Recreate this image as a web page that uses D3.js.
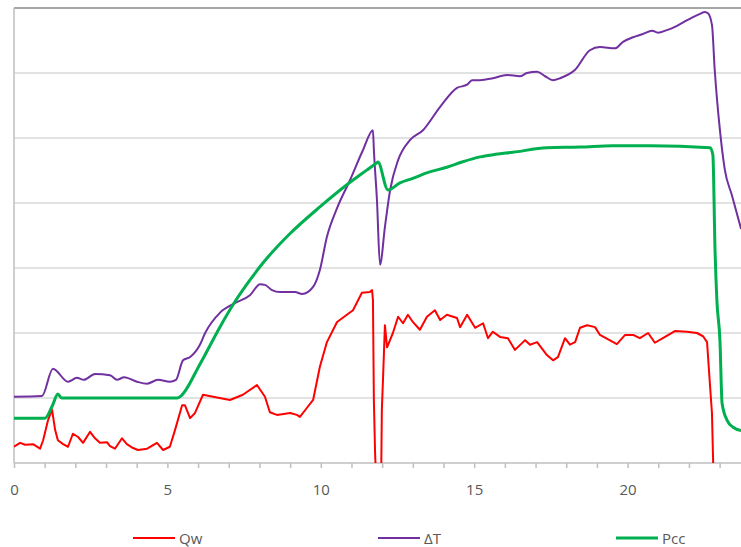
<!DOCTYPE html>
<html>
<head>
<meta charset="utf-8">
<script src="https://cdn.jsdelivr.net/npm/d3@7"></script>
<style>
  body { margin: 0; background: #fff; }
  svg { display: block; }
</style>
</head>
<body>
<script>
// values (time, value)
var qwX = [0,0.2,0.36,0.62,0.85,0.95,1.11,1.24,1.34,1.43,1.6,1.76,1.92,2.09,2.25,2.48,2.64,2.8,3.03,3.13,3.29,3.52,3.68,3.88,4.04,4.34,4.66,4.86,5.08,5.25,5.48,5.57,5.74,5.9,6.16,6.49,7.04,7.46,7.92,8.18,8.34,8.57,9.0,9.22,9.32,9.55,9.75,9.97,10.2,10.53,10.85,11.05,11.34,11.6,11.67,11.7,11.73,11.77,11.83,11.96,11.99,12.03,12.09,12.16,12.35,12.52,12.68,12.84,13.0,13.23,13.46,13.72,13.89,14.11,14.44,14.54,14.77,15.03,15.29,15.45,15.61,15.84,16.1,16.33,16.66,16.82,17.05,17.37,17.57,17.73,17.96,18.12,18.29,18.45,18.68,18.94,19.1,19.65,19.92,20.18,20.4,20.67,20.89,21.15,21.54,21.94,22.26,22.46,22.59,22.69,22.75,22.82,23.7];
var qwY = [0.25,0.31,0.28,0.29,0.22,0.35,0.66,0.82,0.51,0.35,0.29,0.25,0.45,0.4,0.31,0.48,0.38,0.31,0.32,0.26,0.22,0.38,0.29,0.23,0.2,0.22,0.31,0.2,0.25,0.51,0.89,0.89,0.69,0.77,1.05,1.02,0.97,1.05,1.2,1.02,0.78,0.74,0.77,0.74,0.71,0.85,0.97,1.48,1.86,2.17,2.28,2.35,2.62,2.63,2.66,2.51,0.97,0.15,-0.6,-0.6,0.82,1.32,2.12,1.78,2.0,2.25,2.15,2.28,2.17,2.05,2.25,2.35,2.2,2.28,2.23,2.09,2.28,2.08,2.15,1.92,2.02,1.94,1.92,1.74,1.89,1.82,1.86,1.66,1.58,1.63,1.92,1.82,1.86,2.08,2.12,2.09,1.97,1.83,1.97,1.97,1.92,2.0,1.85,1.92,2.03,2.02,2.0,1.95,1.86,1.17,0.77,-0.6,-0.6];

var dtX = [0,0.91,1.27,1.76,2.05,2.28,2.64,3.13,3.36,3.59,4.01,4.34,4.69,5.08,5.28,5.51,5.74,6.06,6.23,6.71,7.2,7.69,8.02,8.18,8.41,8.67,9.16,9.39,9.75,9.97,10.2,10.53,10.95,11.38,11.7,11.73,11.83,11.93,12.09,12.26,12.52,12.91,13.33,13.89,14.44,14.77,14.93,15.19,15.61,16.07,16.49,16.72,17.05,17.31,17.57,17.8,18.29,18.77,19.1,19.59,19.85,20.18,20.5,20.8,20.99,21.28,21.54,21.81,22.13,22.36,22.52,22.62,22.75,22.84,23.01,23.17,23.4,23.7];
var dtY = [1.02,1.03,1.45,1.25,1.31,1.28,1.37,1.35,1.28,1.32,1.25,1.22,1.28,1.25,1.28,1.58,1.63,1.82,2.0,2.31,2.46,2.58,2.75,2.74,2.66,2.63,2.63,2.6,2.71,2.97,3.48,3.92,4.35,4.82,5.12,4.82,4.05,3.05,3.63,4.2,4.66,4.97,5.12,5.48,5.77,5.82,5.89,5.89,5.92,5.97,5.95,6.0,6.02,5.95,5.89,5.92,6.05,6.35,6.4,6.38,6.48,6.55,6.6,6.65,6.62,6.66,6.71,6.78,6.86,6.91,6.94,6.92,6.74,6.05,5.12,4.51,4.12,3.6];

var pccX = [0,1.01,1.25,1.43,1.55,5.31,5.41,6.06,6.71,7.2,7.7,8.12,9.0,9.97,10.85,11.51,11.83,11.86,12.19,12.58,13.0,13.5,14.11,14.6,15.19,15.7,16.26,17.37,18.45,19.52,20.73,22.69,22.78,22.85,22.91,23.01,23.08,23.24,23.44,23.7];
var pccY = [0.69,0.69,0.88,1.06,1.0,1.0,1.02,1.52,2.09,2.48,2.82,3.08,3.53,3.94,4.28,4.51,4.62,4.63,4.2,4.31,4.38,4.47,4.55,4.63,4.71,4.75,4.78,4.85,4.86,4.88,4.88,4.85,4.74,3.28,2.51,1.89,0.92,0.66,0.55,0.5];

var seriesNames = ["Qw", "\u0394T", "Pcc"];
var seriesColors = ["#ff0000", "#7030a0", "#00b050"];
var xTicks = d3.range(0, 24);
var yGrid = d3.range(1, 8);

var width = 741, height = 547;
var svg = d3.select("body").append("svg")
    .attr("width", width)
    .attr("height", height);

var x = d3.scaleLinear().domain([0, 23.7]).range([14, 741.1]);
var y = d3.scaleLinear().domain([0, 7]).range([463, 8]);

svg.append("defs").append("clipPath").attr("id", "plot")
  .append("rect")
    .attr("x", 14).attr("y", 6)
    .attr("width", width - 14).attr("height", 457);

// gridlines
svg.append("g")
  .selectAll("line")
  .data(yGrid)
  .enter().append("line")
    .attr("x1", 14).attr("x2", width)
    .attr("y1", function(d) { return y(d); })
    .attr("y2", function(d) { return y(d); })
    .style("stroke", function(d) { return d === 7 ? "#a6a6a6" : "#d9d9d9"; })
    .style("stroke-width", function(d) { return d === 7 ? 2 : 1.5; });

// left axis line
svg.append("line")
  .attr("x1", 14).attr("x2", 14)
  .attr("y1", y(7)).attr("y2", y(0))
  .style("stroke", "#bfbfbf")
  .style("stroke-width", 1.5);

// x axis
var xAxis = svg.append("g")
  .attr("transform", "translate(0," + y(0) + ")")
  .call(d3.axisBottom(x)
    .tickValues(xTicks)
    .tickSize(5)
    .tickPadding(16)
    .tickFormat(function(d) { return d % 5 === 0 ? d : ""; }));
xAxis.select(".domain").remove();
xAxis.insert("line", ":first-child")
  .attr("x1", 14).attr("x2", width)
  .style("stroke", "#bfbfbf")
  .style("stroke-width", 1.5);
xAxis.selectAll(".tick line").style("stroke", "#bfbfbf").style("stroke-width", 1.5);
xAxis.selectAll(".tick text")
  .style("font-family", "'Open Sans', 'Noto Sans', sans-serif")
  .style("font-size", "15px")
  .style("fill", "#595959");

var series = [
  d3.zip(qwX, qwY),
  d3.zip(dtX, dtY),
  d3.zip(pccX, pccY)
];
var widths = [2, 2, 3];
var curves = [d3.curveLinear, d3.curveMonotoneX, d3.curveMonotoneX];

var lines = svg.append("g").attr("clip-path", "url(#plot)");
[0, 1, 2].forEach(function(i) {
  var line = d3.line()
    .curve(curves[i])
    .x(function(d) { return x(d[0]); })
    .y(function(d) { return y(d[1]); });
  lines.append("path")
    .datum(series[i])
    .attr("d", line)
    .style("fill", "none")
    .style("stroke", seriesColors[i])
    .style("stroke-width", widths[i])
    .style("stroke-linejoin", "round");
});

// legend
var legendX = [133, 378, 616];
var legend = svg.append("g")
  .selectAll("g")
  .data(seriesNames)
  .enter().append("g")
    .attr("transform", function(d, i) { return "translate(" + legendX[i] + ",538)"; });
legend.append("line")
  .attr("x1", 0).attr("x2", 42)
  .style("stroke", function(d, i) { return seriesColors[i]; })
  .style("stroke-width", function(d, i) { return widths[i]; });
legend.append("text")
  .attr("x", 46).attr("y", 5.5)
  .style("font-family", "'Open Sans', 'Noto Sans', sans-serif")
  .style("font-size", "15px")
  .style("fill", "#595959")
  .text(function(d) { return d; });
</script>
</body>
</html>
